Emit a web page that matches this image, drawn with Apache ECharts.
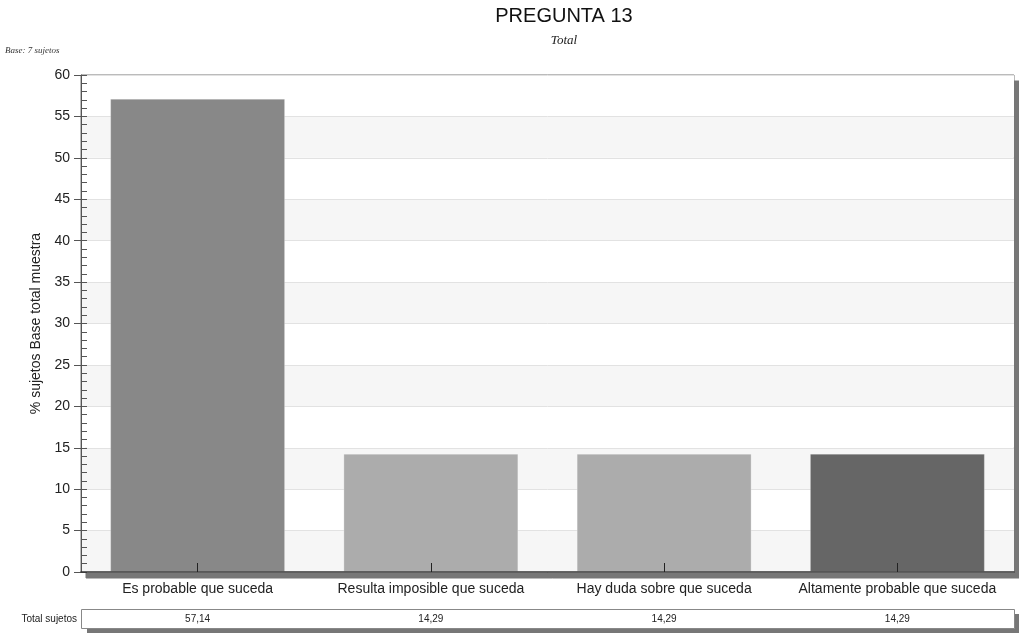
<!DOCTYPE html>
<html>
<head>
<meta charset="utf-8">
<script src="https://cdn.jsdelivr.net/npm/echarts@6/dist/echarts.min.js"></script>
<style>
html,body{margin:0;padding:0;background:#fff;}
#chart{width:1019px;height:635px;}
</style>
</head>
<body>
<div id="chart"></div>
<script>
var categories = ['Es probable que suceda', 'Resulta imposible que suceda', 'Hay duda sobre que suceda', 'Altamente probable que suceda'];
var values = [57.14, 14.29, 14.29, 14.29];
var tableLabels = ['57,14', '14,29', '14,29', '14,29'];
var barColors = ['#888888', '#acacac', '#acacac', '#666666'];
var yTicks = [0, 5, 10, 15, 20, 25, 30, 35, 40, 45, 50, 55, 60];

var chart = echarts.init(document.getElementById('chart'));
var font = 'Arial, "Liberation Sans", sans-serif';
var serif = '"Liberation Serif", "DejaVu Serif", serif';

var option = {
  animation: false,
  backgroundColor: '#ffffff',
  title: [
    {
      text: 'PREGUNTA 13',
      subtext: 'Total',
      left: 559,
      top: 1,
      textAlign: 'center',
      itemGap: 8,
      textStyle: { fontFamily: font, fontSize: 20, fontWeight: 'normal', color: '#111' },
      subtextStyle: { fontFamily: serif, fontStyle: 'italic', fontSize: 13, color: '#222' }
    },
    {
      text: 'Base: 7 sujetos',
      left: 5,
      top: 46,
      padding: 0,
      textStyle: { fontFamily: serif, fontStyle: 'italic', fontSize: 9, fontWeight: 'normal', color: '#333' }
    }
  ],
  grid: {
    left: 81, right: 5, top: 75, bottom: 63,
    show: true,
    backgroundColor: '#ffffff',
    borderColor: '#777',
    borderWidth: 1,
    shadowColor: '#777',
    shadowBlur: 0,
    shadowOffsetX: 5,
    shadowOffsetY: 6
  },
  graphic: [
    {
      type: 'rect',
      left: 87, top: 614,
      shape: { width: 932, height: 19 },
      style: { fill: '#777', lineWidth: 0 },
      z: -2
    },
    {
      type: 'rect',
      left: 81, top: 609,
      shape: { width: 933, height: 19 },
      style: { fill: '#fff', stroke: '#888', lineWidth: 1 },
      z: -1
    }
  ],
  xAxis: [
    {
      type: 'category',
      data: categories,
      axisLine: { lineStyle: { color: '#333', width: 1.5 } },
      axisTick: { alignWithLabel: true, length: 8, lineStyle: { color: '#222', width: 1 } },
      axisLabel: { fontFamily: font, fontSize: 14, color: '#222', margin: 10, interval: 0 },
      z: 5
    },
    {
      type: 'category',
      data: categories,
      position: 'bottom',
      offset: 0,
      axisLine: { show: false },
      axisTick: { show: true, alignWithLabel: true, inside: true, length: 9, lineStyle: { color: '#222', width: 1 } },
      axisLabel: { show: false },
      splitLine: { show: false },
      z: 10
    },
    {
      type: 'category',
      data: categories,
      position: 'bottom',
      offset: 47,
      axisLine: { show: false },
      axisTick: { show: false },
      axisLabel: {
        interval: 0, margin: 0, verticalAlign: 'middle',
        fontFamily: font, fontSize: 10, color: '#222',
        formatter: function (v, i) { return tableLabels[i]; }
      },
      name: 'Total sujetos',
      nameLocation: 'start',
      nameGap: 4,
      nameTextStyle: { fontFamily: font, fontSize: 10, color: '#222', align: 'right', verticalAlign: 'middle' }
    }
  ],
  yAxis: [
    {
      type: 'value',
      min: 0, max: 60, interval: 5,
      name: '% sujetos Base total muestra',
      nameLocation: 'middle',
      nameGap: 35,
      nameTextStyle: { fontFamily: font, fontSize: 14, color: '#222' },
      axisLine: { show: true, lineStyle: { color: '#555' } },
      axisTick: { show: true, length: 7, lineStyle: { color: '#555' } },
      axisLabel: {
        fontFamily: font, fontSize: 14, color: '#222', margin: 11,
        formatter: function (v) { return yTicks.indexOf(v) >= 0 ? String(v) : ''; }
      },
      splitLine: { show: true, lineStyle: { color: '#e2e2e2' } },
      splitArea: { show: true, areaStyle: { color: ['#f6f6f6', '#ffffff'] } }
    },
    {
      type: 'value',
      min: 0, max: 60, interval: 1,
      position: 'left',
      offset: 0,
      axisLine: { show: false },
      axisTick: { show: true, inside: true, length: 6, lineStyle: { color: '#555' } },
      axisLabel: { show: false },
      splitLine: { show: false },
      splitArea: { show: false }
    }
  ],
  series: [
    {
      type: 'bar',
      xAxisIndex: 0,
      yAxisIndex: 0,
      barWidth: '75%',
      data: values.map(function (v, i) {
        return { value: v, itemStyle: { color: barColors[i], borderColor: 'rgba(255,255,255,0.25)', borderWidth: 1 } };
      }),
      z: 2
    }
  ]
};
chart.setOption(option);
</script>
</body>
</html>
